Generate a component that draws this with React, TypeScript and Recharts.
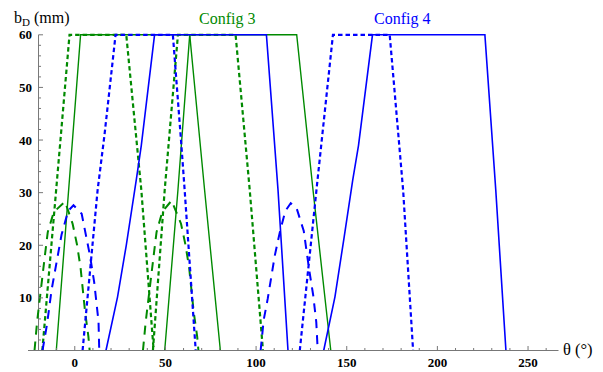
import React from "react";
import { LineChart, Line, XAxis, YAxis, ReferenceLine } from "recharts";

type Pt = [number, number];

// Config 3 (green) – theta (deg), b_D (mm)
const c3SolidA: Pt[] = [[-10.2, 0], [3.2, 60], [63.4, 60], [71.6, 30.5], [80.3, 0]];
const c3SolidB: Pt[] = [[49.6, 0], [56.9, 30.5], [63.4, 60], [122.4, 60], [131.4, 30.5], [141.2, 0]];
const c3DottedA: Pt[] = [[-17.9, 0], [-2.9, 60], [28.4, 60], [36.7, 30.5], [43.5, 0]];
const c3DottedB: Pt[] = [[43.1, 0], [49.6, 30.5], [56.9, 60], [88.7, 60], [96.5, 30.5], [103.8, 0]];
const c3DashedA: Pt[] = [
  [-22.2, 0], [-20.8, 5.4], [-16.5, 18], [-14.9, 22.5], [-11.6, 26.3], [-5.4, 28.3],
  [-1.2, 24.1], [1.3, 20], [3.2, 15.7], [5.7, 7.3], [7.5, 2.7], [8.2, 0],
];
const c3DashedB: Pt[] = [
  [37.6, 0], [39.1, 5.4], [43.5, 18], [45.1, 22.5], [48.2, 26.3], [53.4, 28.5],
  [58.6, 24.1], [61.1, 20], [63.1, 15.7], [65.6, 7.3], [67.5, 2.7], [68.2, 0],
];

// Config 4 (blue)
const c4SolidA: Pt[] = [[17.2, 0], [23.6, 10.2], [28.4, 20], [33.9, 32.4], [36.7, 39], [44, 60], [105.7, 60], [112.1, 30.5], [117.6, 0]];
const c4SolidB: Pt[] = [[137.3, 0], [143.5, 10.2], [148.6, 21.6], [153.3, 32.4], [156.5, 39], [164.2, 60], [226.2, 60], [232.2, 30.5], [237.8, 0]];
const c4DottedA: Pt[] = [[4.3, 0], [12.6, 30.5], [16.4, 41], [22.5, 60], [54.1, 60], [58.8, 39], [60.6, 30.5], [66.7, 0]];
const c4DottedB: Pt[] = [[124.1, 0], [133.3, 30.5], [142.4, 60], [173.7, 60], [181.1, 30.5], [186.6, 0]];
const c4DashedA: Pt[] = [
  [-17.8, 0], [-15.3, 5], [-12.8, 11.5], [-7.3, 22], [-3.7, 26.5], [-0.7, 27.6],
  [3.8, 26], [8.4, 18], [10.7, 13], [13.1, 5.5], [13.5, 0],
];
const c4DashedB: Pt[] = [
  [102.5, 0], [104.2, 5.8], [106.4, 9.8], [110.3, 18], [113.1, 22.5], [116.1, 26.5], [119.1, 28],
  [122.4, 27], [126.3, 22.7], [129.3, 15.3], [131.5, 10.5], [133.2, 5.4], [134, 0],
];

const xTicks = [-20, -10, 0, 10, 20, 30, 40, 50, 60, 70, 80, 90, 100, 110, 120, 130, 140, 150, 160, 170, 180, 190, 200, 210, 220, 230, 240, 250, 260];
const yTicks = [0, 2, 4, 6, 8, 10, 12, 14, 16, 18, 20, 22, 24, 26, 28, 30, 32, 34, 36, 38, 40, 42, 44, 46, 48, 50, 52, 54, 56, 58, 60];

const GREEN = "#008a00";
const BLUE = "#0000ff";
const AXIS = "#777";
const SERIF = "'Liberation Serif', 'Times New Roman', serif";
const DOTTED = "4.5 3";
const DASHED = "9 7";

const X_MIN = -25.8;
const X_MAX = 266.8;
const PLOT_W = 530.5;
const AXIS_X = -20;
const AXIS_OFFSET = ((AXIS_X - X_MIN) / (X_MAX - X_MIN)) * PLOT_W;

const toRows = (pts: Pt[]) => pts.map(([x, y]) => ({ x, y }));

const series = [
  { key: "c3DashedA", pts: c3DashedA, color: GREEN, dash: DASHED, w: 2 },
  { key: "c3DashedB", pts: c3DashedB, color: GREEN, dash: DASHED, w: 2 },
  { key: "c3DottedA", pts: c3DottedA, color: GREEN, dash: DOTTED, w: 2.2 },
  { key: "c3DottedB", pts: c3DottedB, color: GREEN, dash: DOTTED, w: 2.2 },
  { key: "c3SolidA", pts: c3SolidA, color: GREEN, dash: undefined, w: 1.4 },
  { key: "c3SolidB", pts: c3SolidB, color: GREEN, dash: undefined, w: 1.4 },
  { key: "c4DashedA", pts: c4DashedA, color: BLUE, dash: DASHED, w: 2 },
  { key: "c4DashedB", pts: c4DashedB, color: BLUE, dash: DASHED, w: 2 },
  { key: "c4DottedA", pts: c4DottedA, color: BLUE, dash: DOTTED, w: 2.2 },
  { key: "c4DottedB", pts: c4DottedB, color: BLUE, dash: DOTTED, w: 2.2 },
  { key: "c4SolidA", pts: c4SolidA, color: BLUE, dash: undefined, w: 1.6 },
  { key: "c4SolidB", pts: c4SolidB, color: BLUE, dash: undefined, w: 1.6 },
];

const XTick = (props: any) => {
  const { x, y, payload } = props;
  const major = payload.value % 50 === 0;
  return (
    <g>
      <line x1={x} x2={x} y1={y} y2={y - (major ? 4.5 : 2.5)} stroke={AXIS} strokeWidth={1} />
      {major && (
        <text x={x} y={y + 16.5} textAnchor="middle" fontFamily={SERIF} fontWeight="bold" fontSize={13} fill="#000">
          {payload.value}
        </text>
      )}
    </g>
  );
};

const YTick = (props: any) => {
  const { x, y, payload } = props;
  const ax = x + AXIS_OFFSET;
  const major = payload.value % 10 === 0;
  return (
    <g>
      <line x1={ax} x2={ax + (major ? 4.5 : 2.5)} y1={y} y2={y} stroke={AXIS} strokeWidth={1} />
      {major && payload.value > 0 && (
        <text x={ax - 6.5} y={y + 4.5} textAnchor="end" fontFamily={SERIF} fontWeight="bold" fontSize={13} fill="#000">
          {payload.value}
        </text>
      )}
    </g>
  );
};

export default function App() {
  return (
    <div style={{ position: "absolute", left: 0, top: 0, width: 603, height: 372, background: "#fff" }}>
      <LineChart width={603} height={372} margin={{ top: 34.8, right: 44.5, bottom: 0, left: 0 }}>
        <XAxis
          type="number"
          dataKey="x"
          domain={[X_MIN, X_MAX]}
          ticks={xTicks}
          interval={0}
          tickSize={0}
          tickMargin={0}
          tickLine={false}
          tick={XTick}
          axisLine={{ stroke: AXIS, strokeWidth: 1 }}
          height={21.5}
        />
        <YAxis
          type="number"
          dataKey="y"
          domain={[0, 60]}
          ticks={yTicks}
          interval={0}
          width={28}
          tickSize={0}
          tickMargin={0}
          tickLine={false}
          axisLine={false}
          tick={YTick}
        />
        <ReferenceLine x={AXIS_X} stroke={AXIS} strokeWidth={1} />
        {series.map((s) => (
          <Line
            key={s.key}
            data={toRows(s.pts)}
            dataKey="y"
            type="linear"
            stroke={s.color}
            strokeWidth={s.w}
            strokeDasharray={s.dash}
            dot={false}
            activeDot={false}
            isAnimationActive={false}
          />
        ))}
      </LineChart>
      <svg width={603} height={372} style={{ position: "absolute", left: 0, top: 0, pointerEvents: "none" }}>
        <text x={14} y={22.5} fontFamily={SERIF} fontSize={16} fill="#000">
          b<tspan fontSize={11} dy={3}>D</tspan>
          <tspan dy={-3}> (mm)</tspan>
        </text>
        <text x={199} y={24} fontFamily={SERIF} fontSize={16} fill={GREEN}>Config 3</text>
        <text x={374} y={24} fontFamily={SERIF} fontSize={16} fill={BLUE}>Config 4</text>
        <text x={563} y={355} fontFamily={SERIF} fontSize={16.5} fill="#000">θ (°)</text>
      </svg>
    </div>
  );
}
